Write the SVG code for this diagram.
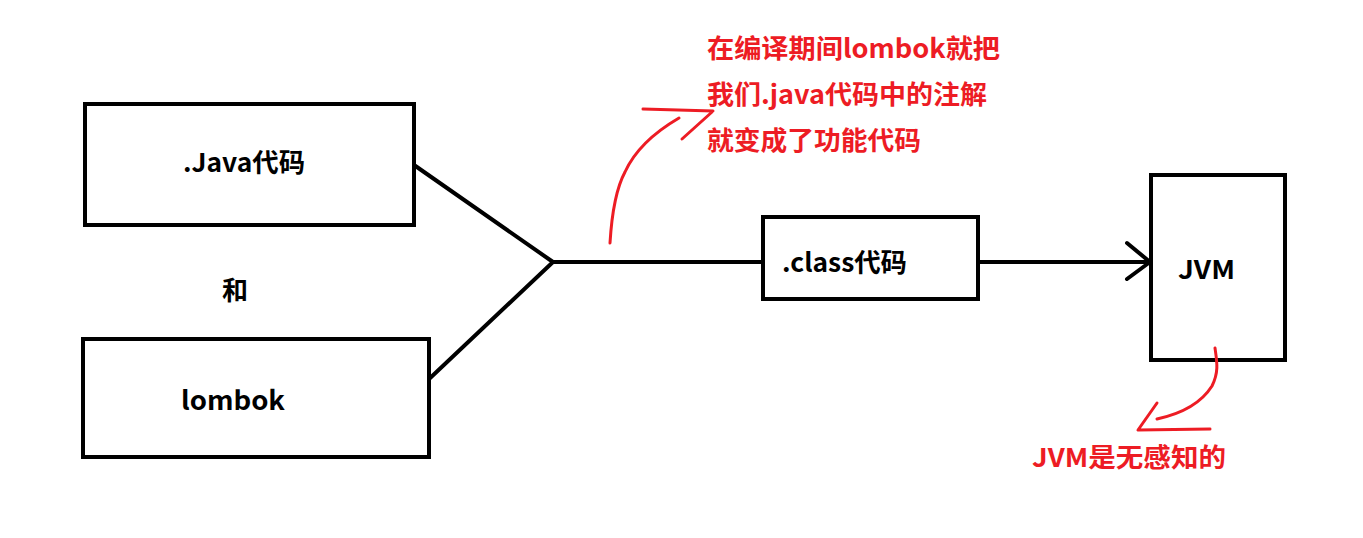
<svg xmlns="http://www.w3.org/2000/svg" width="1363" height="538" viewBox="0 0 1363 538">
<style>
.box{fill:#fff;stroke:#000;stroke-width:4}
.lbl{font-family:"Noto Sans CJK SC","Noto Sans",sans-serif;font-weight:bold;font-size:26px;fill:#000}
.note{font-family:"Noto Sans CJK SC","Noto Sans",sans-serif;font-weight:bold;font-size:26px;fill:#ed1c24}
.conn{fill:none;stroke:#000;stroke-width:4;stroke-linecap:round;stroke-linejoin:round}
.red{fill:none;stroke:#ed1c24;stroke-width:3;stroke-linecap:round;stroke-linejoin:round}
</style>
<rect width="1363" height="538" fill="#fff"/>
<g id="connectors">
<polyline class="conn" points="414,165 553,262 428,380"/>
<line class="conn" x1="553" y1="262" x2="763" y2="262"/>
<line class="conn" x1="978" y1="262" x2="1150" y2="262"/>
<polyline class="conn" points="1127,243 1150,262 1127,279"/>
</g>
<g id="java">
<rect class="box" x="85" y="104" width="329" height="121"/>
<text class="lbl" x="183" y="172" textLength="122" lengthAdjust="spacingAndGlyphs">.Java代码</text>
</g>
<g id="and">
<text class="lbl" x="235" y="300" text-anchor="middle">和</text>
</g>
<g id="lombok">
<rect class="box" x="83" y="339" width="346" height="118"/>
<text class="lbl" x="181" y="410" textLength="104" lengthAdjust="spacingAndGlyphs">lombok</text>
</g>
<g id="class">
<rect class="box" x="763" y="217" width="215" height="82"/>
<text class="lbl" x="782" y="272" textLength="125" lengthAdjust="spacingAndGlyphs">.class代码</text>
</g>
<g id="jvm">
<rect class="box" x="1151" y="175" width="134" height="185"/>
<text class="lbl" x="1178" y="279" textLength="57" lengthAdjust="spacingAndGlyphs">JVM</text>
</g>
<g id="note1">
<path class="red" d="M610,243 C612,210 618,185 625,172 C635,150 655,132 679,118"/>
<path class="red" d="M643,109 L713,111 M682,139 L712,112"/>
<text class="note" x="707" y="58" textLength="293" lengthAdjust="spacingAndGlyphs">在编译期间lombok就把</text>
<text class="note" x="707" y="104" textLength="280" lengthAdjust="spacingAndGlyphs">我们.java代码中的注解</text>
<text class="note" x="707" y="150" textLength="214" lengthAdjust="spacingAndGlyphs">就变成了功能代码</text>
</g>
<g id="note2">
<path class="red" d="M1215,348 C1217,362 1219,372 1212,386 C1200,405 1180,414 1157,419"/>
<path class="red" d="M1157,403 L1138,430 L1210,429"/>
<text class="note" x="1032" y="467" textLength="194" lengthAdjust="spacingAndGlyphs">JVM是无感知的</text>
</g>
</svg>
